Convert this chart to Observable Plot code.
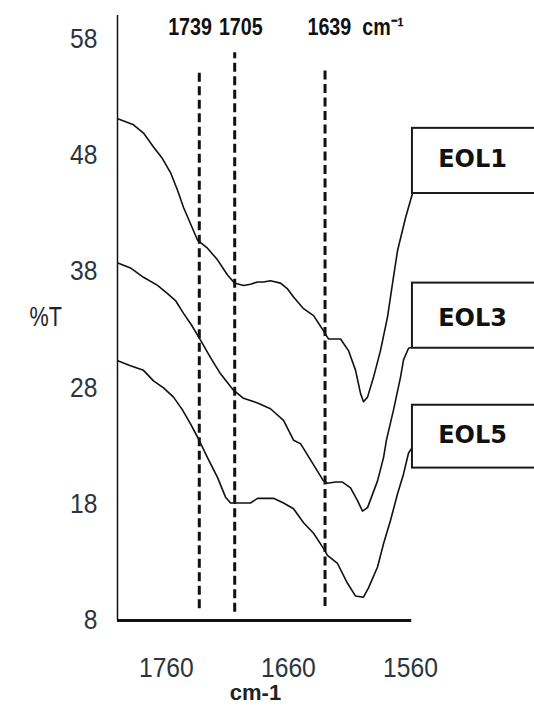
<!DOCTYPE html>
<html><head><meta charset="utf-8">
<script src="https://cdn.jsdelivr.net/npm/d3@7"></script>
<script src="https://cdn.jsdelivr.net/npm/@observablehq/plot@0.6"></script>
<style>html,body{margin:0;background:#fff;overflow:hidden} svg{display:block}</style>
</head><body><div id="chart"></div>
<script>
// Wavenumber (cm-1) and %T
const eol1Wn = [1799.2,1786.9,1778.7,1770.5,1763.2,1756.6,1750.9,1745.9,1740.2,1734.5,1726.3,1718.1,1709.9,1704.2,1696.8,1691.0,1685.3,1680.4,1674.7,1666.5,1660.7,1655.8,1647.6,1639.4,1631.3,1627.2,1622.3,1617.3,1610.8,1605.0,1600.9,1598.5,1595.2,1590.3,1584.6,1578.8,1574.7,1570.6,1564.1,1558.4];
const eol1T  = [51.1,50.6,49.9,48.7,47.7,46.5,45.0,43.5,42.1,40.7,40.0,39.0,37.7,37.0,36.8,36.9,37.1,37.1,37.2,37.0,36.5,35.8,34.8,34.2,32.9,32.2,32.2,32.2,31.2,29.5,27.5,26.8,27.2,28.9,31.2,34.1,37.0,39.8,42.6,44.7];
const eol3Wn = [1799.2,1789.4,1778.7,1767.2,1759.0,1752.5,1745.9,1739.4,1732.0,1723.8,1715.6,1705.0,1696.8,1685.3,1674.7,1664.0,1655.8,1650.1,1641.9,1631.3,1628.0,1621.4,1615.7,1609.1,1603.4,1599.3,1595.2,1587.0,1582.1,1579.7,1573.9,1568.2,1565.7,1561.6,1558.4];
const eol3T  = [38.7,38.3,37.5,36.8,36.1,35.5,34.4,33.4,32.1,30.6,29.2,27.8,27.1,26.7,26.2,25.2,23.5,23.2,21.8,20.0,19.8,19.9,19.9,19.4,18.3,17.4,17.7,20.0,22.0,23.5,26.1,28.9,30.4,31.4,31.5];
const eol5Wn = [1799.2,1789.4,1778.7,1770.5,1762.3,1754.1,1746.8,1740.2,1733.6,1726.3,1718.1,1711.5,1707.4,1699.2,1691.1,1685.3,1678.8,1672.2,1664.0,1655.8,1647.6,1639.4,1631.3,1628.0,1619.8,1611.6,1605.0,1598.5,1594.4,1587.0,1582.1,1576.4,1570.6,1565.7,1561.6,1558.4];
const eol5T  = [30.3,29.9,29.5,28.6,28.0,27.2,26.1,24.9,23.6,22.0,20.3,18.6,18.1,18.1,18.1,18.5,18.5,18.5,18.1,17.6,16.4,15.5,14.2,13.6,12.9,11.2,10.1,10.0,10.8,12.6,14.6,16.6,18.9,20.6,22.4,22.9];
const seriesNames = ["EOL1","EOL3","EOL5"];
const xTicks = [1760,1660,1560];
const yTicks = [8,18,28,38,48,58];
// dashed marker lines (as drawn) and their labels
const peakPos = [1733,1704,1630];
const peakTop = [55.3,56.8,55.5];
const peakBottom = [9.0,8.7,9.2];
const peakLabels = ["1739","1705","1639  cm\u207B\u00B9"];

const seriesData = [[eol1Wn,eol1T],[eol3Wn,eol3T],[eol5Wn,eol5T]];
const rows = seriesData.flatMap(([w,t],k) => w.map((v,i) => ({name: seriesNames[k], wn: v, t: t[i]})));
const peaks = peakPos.map((p,i) => ({pos: p, top: peakTop[i], bottom: peakBottom[i], label: peakLabels[i]}));

const sans = '"Liberation Sans",Arial,sans-serif';
// legend box layout (annotation geometry)
const boxY = {EOL1: [44.7,50.3], EOL3: [31.4,37.0], EOL5: [21.1,26.5]};
const boxTextY = {EOL1: 47.6, EOL3: 33.97, EOL5: 23.9};

const chart = Plot.plot({
  width: 534, height: 709,
  marginLeft: 117, marginRight: 124, marginTop: 15, marginBottom: 89,
  x: {domain: [1800,1560]},
  y: {domain: [8,60]},
  style: {fontFamily: sans, background: "#fff"},
  marks: [
    Plot.axisY({ticks: yTicks, tickSize: 0, tickPadding: 20, fontSize: 28, fill: "#2b3440", label: null, tickFormat: d => String(d)}),
    Plot.axisX({ticks: xTicks, tickSize: 0, tickPadding: 37, fontSize: 28, fill: "#2b3440", label: null, tickFormat: d => String(d)}),
    Plot.ruleX([1800], {y1: 8, y2: 60, stroke: "#111", strokeWidth: 1.5}),
    Plot.ruleY([8], {x1: 1800, x2: 1559, stroke: "#111", strokeWidth: 3}),
    Plot.ruleX(peaks, {x: "pos", y1: "bottom", y2: "top", stroke: "#111", strokeWidth: 3, strokeDasharray: "9,4.5"}),
    Plot.line(rows, {x: "wn", y: "t", z: "name", stroke: "#111", strokeWidth: 1.6}),
    Plot.rect(seriesNames, {x1: 1558.4, x2: 1450, y1: d => boxY[d][0], y2: d => boxY[d][1], fill: "#fff", stroke: "#1a1a1a", strokeWidth: 2}),
    Plot.text(seriesNames, {x: 1509.2, y: d => boxTextY[d], text: d => d, fontFamily: '"DejaVu Sans",sans-serif', fontWeight: "bold", fontSize: 24, fill: "#111"}),
    Plot.text([peaks[0]], {x: 1740.6, y: 59, text: "label", fontWeight: "bold", fontSize: 24, fill: "#111"}),
    Plot.text([peaks[1]], {x: 1699.0, y: 59, text: "label", fontWeight: "bold", fontSize: 24, fill: "#111"}),
    Plot.text([peaks[2]], {x: 1644.4, y: 59, text: "label", textAnchor: "start", fontWeight: "bold", fontSize: 24, fill: "#111"}),
    Plot.text(["%T"], {frameAnchor: "left", y: 34.05, dx: -88, text: d => d, fontSize: 27, fill: "#222"}),
    Plot.text(["cm-1"], {x: 1687, frameAnchor: "bottom", dy: 79, text: d => d, fontSize: 22, fontWeight: "bold", fill: "#222", letterSpacing: 2.5})
  ]
});
document.getElementById("chart").append(chart);

// condense glyphs horizontally to mimic the narrow font of the original
function squeeze(el, f) {
  const L = el.getComputedTextLength();
  el.setAttribute("textLength", (L * f).toFixed(1));
  el.setAttribute("lengthAdjust", "spacingAndGlyphs");
}
chart.querySelectorAll('g[aria-label="y-axis tick label"] text, g[aria-label="x-axis tick label"] text').forEach(el => squeeze(el, 0.88));
chart.querySelectorAll('g[aria-label="text"] text').forEach(el => {
  const s = el.textContent;
  if (s === "%T") squeeze(el, 0.8);
  else if (/^1\d{3}/.test(s)) squeeze(el, 0.82);
});
</script>
</body></html>
